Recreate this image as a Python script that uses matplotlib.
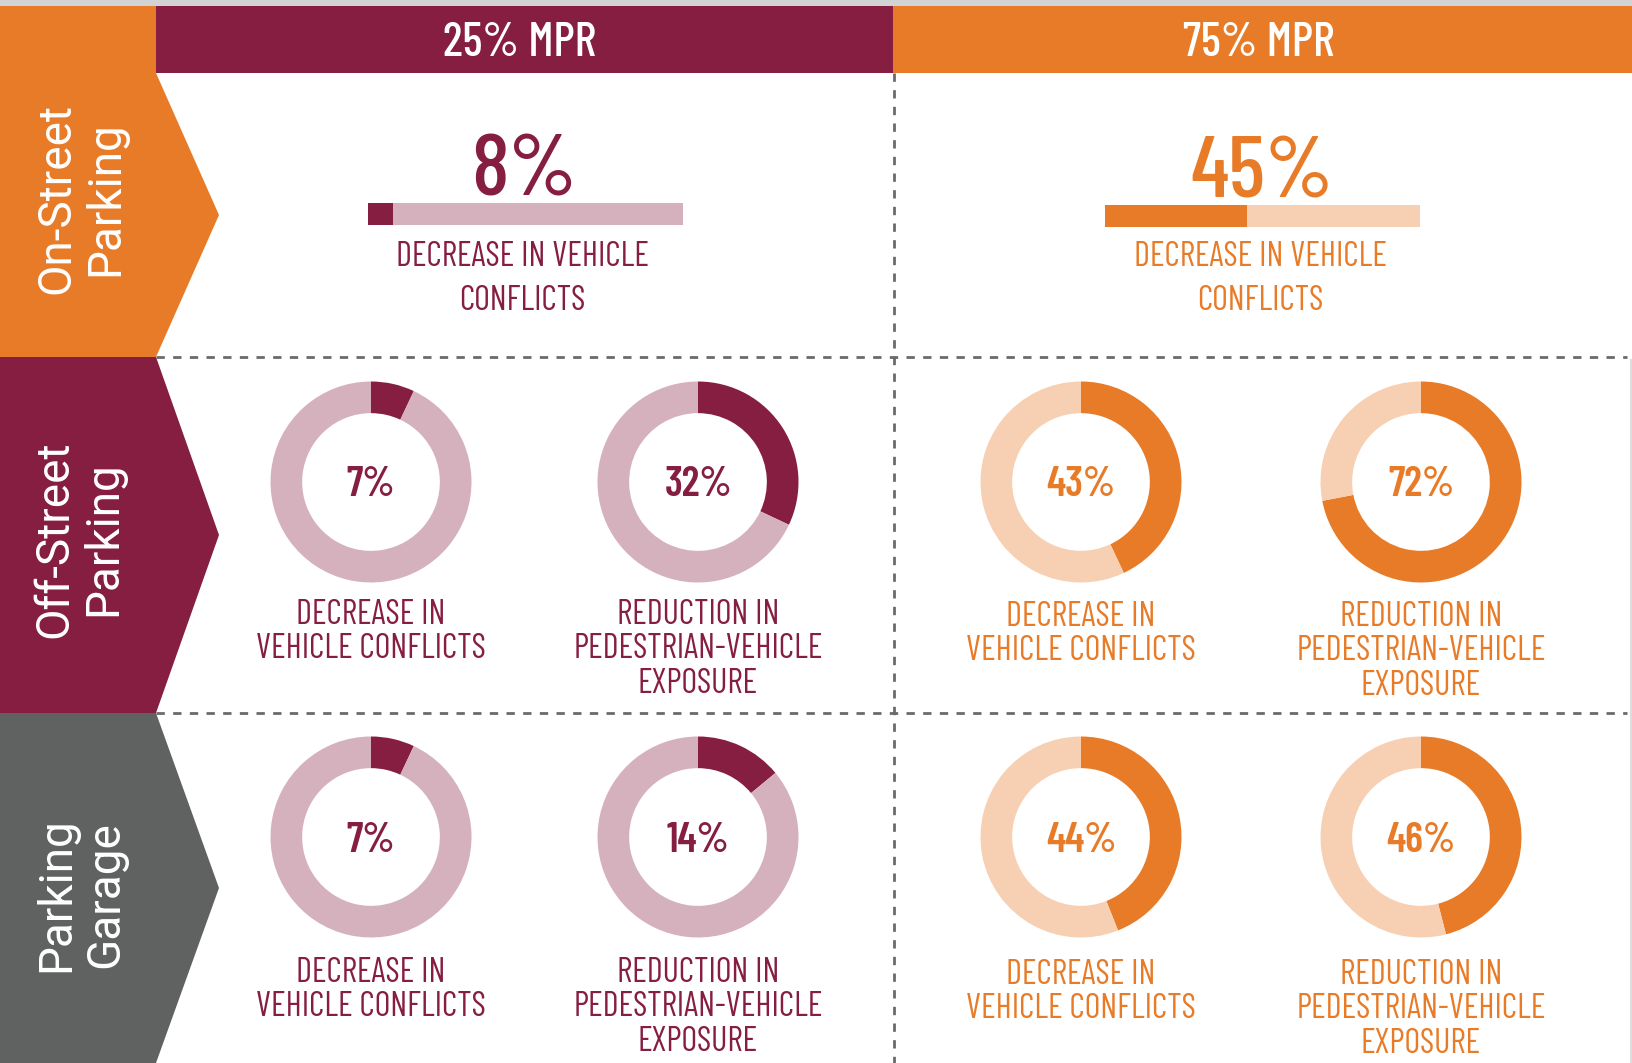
import matplotlib
matplotlib.use('Agg')
import matplotlib.pyplot as plt
from matplotlib.patches import Polygon, Rectangle

# ---- data ----
columns = ['25% MPR', '75% MPR']
row_names = ['On-Street\nParking', 'Off-Street\nParking', 'Parking\nGarage']

on_street_vehicle = [8, 45]          # bar, % decrease in vehicle conflicts
off_street_vehicle = [7, 43]         # donut
off_street_pedestrian = [32, 72]     # donut
garage_vehicle = [7, 44]             # donut
garage_pedestrian = [14, 46]         # donut

bar_label = ['DECREASE IN VEHICLE', 'CONFLICTS']
vehicle_label = ['DECREASE IN', 'VEHICLE CONFLICTS']
pedestrian_label = ['REDUCTION IN', 'PEDESTRIAN-VEHICLE', 'EXPOSURE']

# ---- colours ----
MAROON = '#861E41'
MAROON_LIGHT = '#D5B1BE'
ORANGE = '#E87B28'
ORANGE_LIGHT = '#F7CFB2'
GRAY = '#606261'
DASH = '#6A6A6A'

dark = [MAROON, ORANGE]
light = [MAROON_LIGHT, ORANGE_LIGHT]
row_colors = [ORANGE, MAROON, GRAY]

COND = ['Barlow Condensed', 'DejaVu Sans']
W, H = 1632, 1063


def px_rect(x, y, w, h):
	# pixel box (top-left origin) -> figure fraction
	return [x / W, 1 - (y + h) / H, w / W, h / H]


def donut(fig, cx, cy, r, value, col):
	ax = fig.add_axes(px_rect(cx - r, cy - r, 2 * r, 2 * r))
	ax.pie([value, 100 - value], colors=[dark[col], light[col]], startangle=90,
		   counterclock=False, radius=1,
		   wedgeprops=dict(width=0.315, edgecolor='none', linewidth=0))
	ax.set_xlim(-1, 1)
	ax.set_ylim(-1, 1)
	ax.set_aspect('equal')
	ax.axis('off')


def bar(fig, x, y, w, h, value, col):
	ax = fig.add_axes(px_rect(x, y, w, h))
	ax.barh(0, value, height=1, color=dark[col], linewidth=0)
	ax.barh(0, 100 - value, left=value, height=1, color=light[col], linewidth=0)
	ax.set_xlim(0, 100)
	ax.set_ylim(-0.5, 0.5)
	ax.axis('off')


def main():
	fig = plt.figure(figsize=(W / 100, H / 100), dpi=100)
	ax = fig.add_axes([0, 0, 1, 1])
	ax.set_xlim(0, W)
	ax.set_ylim(H, 0)
	ax.axis('off')

	# top strip and column headers
	ax.add_patch(Rectangle((0, 0), W, 6, color='#D2D3D5', lw=0))
	col_x = [(156, 893), (893, W)]
	head_x = [520, 1259]
	for i, (x0, x1) in enumerate(col_x):
		ax.add_patch(Rectangle((x0, 6), x1 - x0, 67, color=dark[i], lw=0))
		ax.text(head_x[i], 56, columns[i], color='white', fontsize=34, weight=500,
				family=COND, ha='center', va='baseline')

	# dashed grid
	for yy in [357, 713]:
		ax.plot([156, 1627], [yy, yy], color=DASH, lw=2, dashes=(3, 3))
	ax.plot([894, 894], [73, H], color=DASH, lw=2, dashes=(3, 3))
	ax.plot([1631, 1631], [360, H], color='#DDDDDD', lw=1.5)

	# row arrows
	arrows = [
		[(0, 6), (156, 6), (156, 73), (219, 215), (156, 357), (0, 357)],
		[(0, 357), (156, 357), (219, 535), (156, 713), (0, 713)],
		[(0, 713), (156, 713), (219, 888), (156, H), (0, H)],
	]
	text_pos = [(81, 199), (79, 539), (81, 895)]
	for i, pts in enumerate(arrows):
		ax.add_patch(Polygon(pts, closed=True, color=row_colors[i], lw=0))
		ax.text(text_pos[i][0], text_pos[i][1], row_names[i], color='white',
				fontsize=33, family=['Roboto', 'DejaVu Sans'], rotation=90,
				ha='center', va='center', multialignment='center', linespacing=1.15)

	# on-street: big number + bar
	centers = [524, 1262]
	bar_x = [368, 1105]
	bar_y = [203, 205]
	for i in range(2):
		ax.text(centers[i], 195 + i * 2, '%d%%' % on_street_vehicle[i], color=dark[i],
				fontsize=63, weight=500, family=COND, ha='center', va='baseline')
		bar(fig, bar_x[i], bar_y[i], 315, 22, on_street_vehicle[i], i)
		for j, line in enumerate(bar_label):
			ax.text(centers[i] - 2, 266 + j * 44, line, color=dark[i], fontsize=24.6,
					family=COND, ha='center', va='baseline')

	# donuts
	donut_x = [[371, 698], [1081, 1421]]
	rows = [(482, 142, off_street_vehicle, off_street_pedestrian),
			(837, 145, garage_vehicle, garage_pedestrian)]
	r = 100.5
	for cy, off, veh, ped in rows:
		for i in range(2):
			for k, (vals, label) in enumerate([(veh, vehicle_label), (ped, pedestrian_label)]):
				cx = donut_x[i][k]
				donut(fig, cx, cy, r, vals[i], i)
				ax.text(cx, cy + 14.5, '%d%%' % vals[i], color=dark[i], fontsize=30,
						weight=600, family=COND, ha='center', va='baseline')
				for j, line in enumerate(label):
					ax.text(cx, cy + off + i * 2 + j * 34.5, line, color=dark[i], fontsize=24.6,
							family=COND, ha='center', va='baseline')

	fig.savefig('out.png', dpi=100)


if __name__ == '__main__':
	main()
